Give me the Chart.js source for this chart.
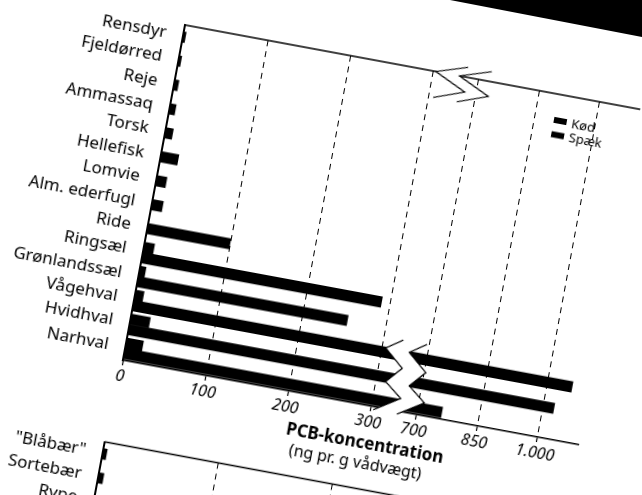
<!DOCTYPE html>
<html lang="da">
<head>
<meta charset="utf-8">
<title>PCB-koncentration</title>
<script src="https://cdn.jsdelivr.net/npm/chart.js@4.4.1/dist/chart.umd.min.js"></script>
<style>
  html, body { margin: 0; padding: 0; background: #fff; }
  body { width: 642px; height: 495px; overflow: hidden; position: relative; }
  /* the scanned page is tilted, so the whole sheet is turned round the plot corner */
  #page { position: absolute; left: 10px; top: -5px; width: 760px; height: 560px;
          transform-origin: 175px 30px; transform: rotate(10.5deg); }
  #mainChart { position: absolute; left: 0; top: 0; }
  #lowerChart { position: absolute; left: 0; top: 430px; }
  #edge { position: absolute; left: 0; top: 0; width: 642px; height: 495px; background: #000;
          clip-path: polygon(450px 0, 642px 0, 642px 37px); }
</style>
</head>
<body>
<div id="page">
  <canvas id="mainChart" width="760" height="470"></canvas>
  <canvas id="lowerChart" width="760" height="130"></canvas>
</div>
<div id="edge"></div>

<script>
// ── Data ─────────────────────────────────────────────────
const categories = ["Rensdyr", "Fjeldørred", "Reje", "Ammassaq", "Torsk", "Hellefisk", "Lomvie",
  "Alm. ederfugl", "Ride", "Ringsæl", "Grønlandssæl", "Vågehval", "Hvidhval", "Narhval"];
const kodValues   = [3, 3, 5, 7, 9, 21, 12, 13, 100, 12, 7, 10, 23, 20];
const spaekValues = [null, null, null, null, null, null, null, null, null, 290, 254, 1060, 1026, 760];
const seriesLabels = ["Kød", "Spæk"];
const tickValues = [0, 100, 200, 300, 700, 850, 1000];
const tickLabels = ["0", "100", "200", "300", "700", "850", "1.000"];
const axisTitle = ["PCB-koncentration", "(ng pr. g vådvægt)"];

// second panel, only its top corner is on the sheet
const lowerCategories = ['"Blåbær"', "Sortebær", "Rype"];
const lowerValues = [0.17, 0.22, 0.13];
const lowerTicks = [0, 5, 10, 15, 20];

// ── Broken axis: 0–300 at full scale, 700–1100 compressed ──
const BREAK_FROM = 300, BREAK_TO = 700, BREAK_GAP = 55, UPPER_RATIO = 0.49, AXIS_MAX = 1100;
const toAxis = (v) => v == null ? null
  : v <= BREAK_FROM ? v : BREAK_FROM + BREAK_GAP + (v - BREAK_TO) * UPPER_RATIO;

const FONT = "'Noto Sans', 'DejaVu Sans', sans-serif";
const LABEL_W = 175, PLOT_W = 463, PLOT_H = 341;
const ROW = PLOT_H / categories.length;

Chart.defaults.font.family = FONT;
Chart.defaults.color = "#000";

// ── Frame, break marks, legend, axis title ───────────────
function zigzag(ctx, x0, y0, pts, shift) {
  const left = pts.map(([dx, dy]) => [x0 + dx, y0 + dy]);
  const right = left.map(([x, y]) => [x + shift, y]);
  const trace = (line) => line.forEach(([x, y], i) => i ? ctx.lineTo(x, y) : ctx.moveTo(x, y));
  ctx.beginPath();
  trace(left);
  right.slice().reverse().forEach(([x, y]) => ctx.lineTo(x, y));
  ctx.closePath();
  ctx.fillStyle = "#fff";
  ctx.fill();
  ctx.lineWidth = 1.2;
  [left, right].forEach((line) => { ctx.beginPath(); trace(line); ctx.stroke(); });
}

const scanFrame = {
  id: "scanFrame",
  afterDatasetsDraw(chart, args, opts) {
    const { ctx, chartArea: a, scales } = chart;
    ctx.save();
    ctx.strokeStyle = "#000";
    ctx.lineWidth = 1.5;
    ctx.beginPath();
    ctx.moveTo(a.left, a.top);
    ctx.lineTo(a.right, a.top);
    ctx.stroke();

    if (opts.broken) {
      const x = scales.x;
      const mid = (x.getPixelForValue(toAxis(BREAK_FROM)) + x.getPixelForValue(toAxis(BREAK_TO))) / 2;
      zigzag(ctx, mid, a.top, [[11, -10], [-20, 0], [12, 15], [-18, 26]], 24);
      zigzag(ctx, mid, a.bottom, [[-3, -71], [-19, -60], [1, -43], [-13, -27], [5, -13], [-20, 3]], 24);
    }

    if (opts.legend) {
      chart.data.datasets.forEach((ds, i) => {
        const y = a.top + 26 + i * 14.5;
        ctx.fillStyle = ds.backgroundColor;
        ctx.fillRect(a.left + 380, y - 3, 13, 6);
        ctx.fillStyle = "#000";
        ctx.font = `13px ${FONT}`;
        ctx.textAlign = "left";
        ctx.textBaseline = "middle";
        ctx.fillText(ds.label, a.left + 398, y + 1);
      });
    }

    if (opts.title) {
      ctx.fillStyle = "#000";
      ctx.textAlign = "center";
      ctx.textBaseline = "middle";
      ctx.font = `bold 17px ${FONT}`;
      ctx.fillText(opts.title[0], a.left + 253, a.bottom + 38);
      ctx.font = `16px ${FONT}`;
      ctx.fillText(opts.title[1], a.left + 247, a.bottom + 58);
    }
    ctx.restore();
  },
};

// ── Main chart ───────────────────────────────────────────
new Chart(document.getElementById("mainChart"), {
  type: "bar",
  data: {
    labels: categories,
    datasets: [
      { label: seriesLabels[0], data: kodValues.map(toAxis), backgroundColor: "#000" },
      { label: seriesLabels[1], data: spaekValues.map(toAxis), backgroundColor: "#000" },
    ],
  },
  options: {
    indexAxis: "y",
    responsive: false,
    animation: false,
    layout: { padding: { top: 30, right: 760 - LABEL_W - PLOT_W, bottom: 470 - 30 - PLOT_H - 70, left: 0 } },
    datasets: { bar: { barThickness: 10.5, skipNull: true, borderWidth: 0 } },
    plugins: {
      legend: { display: false },
      tooltip: { enabled: false },
      scanFrame: { broken: true, legend: true, title: axisTitle },
    },
    scales: {
      x: {
        min: 0,
        max: toAxis(AXIS_MAX),
        afterBuildTicks: (s) => { s.ticks = tickValues.map((v) => ({ value: toAxis(v) })); },
        afterFit: (s) => { s.height = 70; },
        ticks: {
          callback: (v, i) => tickLabels[i],
          font: { size: 16, style: "italic" },
          padding: 2, maxRotation: 0, autoSkip: false,
        },
        grid: {
          color: (c) => c.index === 0 ? "rgba(0,0,0,0)" : "#000",
          lineWidth: 1, tickLength: 5, tickColor: "#000", tickWidth: 1.2,
        },
        border: { color: "#000", width: 1.5, dash: [6, 5] },
      },
      y: {
        afterFit: (s) => { s.width = LABEL_W; },
        ticks: { font: { size: 17 }, padding: 9, labelOffset: -1, autoSkip: false },
        grid: { display: false },
        border: { color: "#000", width: 2 },
      },
    },
  },
  plugins: [scanFrame],
});

// ── Lower panel (cut off by the page edge) ───────────────
new Chart(document.getElementById("lowerChart"), {
  type: "bar",
  data: {
    labels: lowerCategories,
    datasets: [{ label: seriesLabels[0], data: lowerValues, backgroundColor: "#000" }],
  },
  options: {
    indexAxis: "y",
    responsive: false,
    animation: false,
    layout: { padding: { top: 24.5, right: 760 - (LABEL_W - 3) - PLOT_W, bottom: 130 - 24.5 - ROW * lowerCategories.length, left: 0 } },
    datasets: { bar: { barThickness: 10.5, borderWidth: 0 } },
    plugins: { legend: { display: false }, tooltip: { enabled: false }, scanFrame: {} },
    scales: {
      x: {
        min: lowerTicks[0],
        max: lowerTicks[lowerTicks.length - 1],
        afterBuildTicks: (s) => { s.ticks = lowerTicks.map((v) => ({ value: v })); },
        afterFit: (s) => { s.height = 0; },
        ticks: { display: false },
        grid: { color: (c) => c.index === 0 ? "rgba(0,0,0,0)" : "#000", lineWidth: 1, drawTicks: false },
        border: { display: false, dash: [6, 5] },
      },
      y: {
        afterFit: (s) => { s.width = LABEL_W - 3; },
        ticks: { font: { size: 17 }, padding: 9, labelOffset: -1, autoSkip: false },
        grid: { display: false },
        border: { color: "#000", width: 2 },
      },
    },
  },
  plugins: [scanFrame],
});
</script>
</body>
</html>
